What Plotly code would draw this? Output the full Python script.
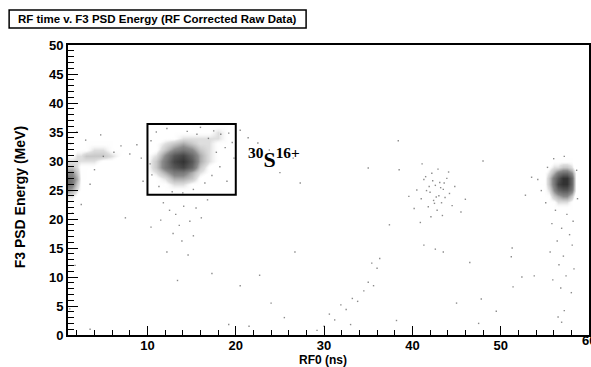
import plotly.graph_objects as go

# ---------------- data ----------------
# Cluster A (30S16+) density grid
a_x = [10, 11, 12, 13, 14, 15, 16, 17, 18, 19, 20]
a_y = [24, 25, 26, 27, 28, 29, 30, 31, 32, 33, 34, 35, 36]
a_z = [
    [0, 0, 0, 1, 1, 0, 0, 0, 0, 0, 0],
    [0, 0, 1, 1, 1, 1, 0, 0, 0, 0, 0],
    [0, 1, 1, 2, 2, 1, 1, 0, 0, 0, 0],
    [0, 1, 2, 4, 4, 3, 1, 0, 0, 0, 0],
    [1, 2, 4, 6, 6, 4, 2, 1, 0, 0, 0],
    [1, 3, 6, 8, 9, 7, 3, 1, 0, 0, 0],
    [1, 3, 6, 9, 10, 8, 4, 2, 1, 0, 0],
    [1, 2, 5, 8, 9, 7, 4, 2, 1, 0, 0],
    [0, 1, 3, 5, 6, 5, 3, 2, 1, 0, 0],
    [0, 1, 2, 3, 4, 3, 2, 2, 1, 1, 0],
    [0, 0, 1, 1, 2, 2, 2, 2, 2, 1, 0],
    [0, 0, 0, 1, 1, 1, 1, 1, 2, 1, 0],
    [0, 0, 0, 0, 0, 1, 1, 1, 1, 1, 0],
]

# Cluster B (x ~ 57 ns) density grid
b_x = [54, 54.5, 55, 55.5, 56, 56.5, 57, 57.5, 58, 58.5, 59]
b_y = [22, 23, 24, 25, 26, 27, 28, 29, 30]
b_z = [
    [0, 0, 0, 0, 1, 1, 1, 1, 1, 0, 0],
    [0, 0, 0, 1, 1, 2, 2, 2, 1, 0, 0],
    [0, 0, 1, 1, 3, 4, 5, 5, 3, 0, 0],
    [0, 0, 1, 2, 5, 7, 8, 8, 6, 1, 0],
    [0, 1, 1, 3, 6, 9, 10, 10, 7, 1, 0],
    [0, 0, 1, 3, 6, 8, 10, 10, 7, 1, 0],
    [0, 0, 1, 2, 4, 6, 7, 7, 5, 1, 0],
    [0, 0, 0, 1, 2, 2, 3, 3, 2, 0, 0],
    [0, 0, 0, 0, 1, 1, 1, 1, 1, 0, 0],
]

# Left-edge cluster and band density grid
c_x = [1, 1.5, 2, 2.5, 3, 4, 5, 6, 7, 8, 9]
c_y = [23, 24, 25, 26, 27, 28, 29, 30, 31, 32, 33]
c_z = [
    [1, 1, 0, 0, 0, 0, 0, 0, 0, 0, 0],
    [2, 2, 1, 0, 0, 0, 0, 0, 0, 0, 0],
    [5, 4, 2, 1, 0, 0, 0, 0, 0, 0, 0],
    [7, 6, 3, 1, 0, 0, 0, 0, 0, 0, 0],
    [7, 6, 4, 1, 1, 0, 0, 0, 0, 0, 0],
    [5, 5, 3, 1, 1, 0, 0, 0, 0, 0, 0],
    [3, 3, 2, 1, 1, 1, 0, 0, 0, 0, 0],
    [2, 2, 2, 2, 2, 2, 1, 1, 0, 0, 0],
    [1, 1, 2, 2, 3, 3, 3, 2, 1, 0, 0],
    [0, 0, 1, 1, 1, 2, 2, 1, 1, 1, 0],
    [0, 0, 0, 0, 1, 1, 1, 1, 0, 0, 0],
]

# Individual sparse events
pts_x = [
    10.4, 11.0, 12.2, 16.0, 17.5, 18.3, 19.2, 19.6, 18.8, 17.8, 16.9, 15.6, 14.5, 19.8, 18.2, 17.3, 16.5, 15.2,
    11.3, 10.5, 10.3, 12.8, 14.0, 19.0, 20.5, 21.4, 22.5, 23.8,
    11.8, 12.5, 13.2, 14.1, 14.8, 13.6, 12.9, 15.2, 13.9, 11.5, 10.4, 16.1, 12.2, 14.6, 13.4, 16.8, 15.5,
    25.0, 26.5, 27.3,
    30.0, 30.6, 31.2, 31.9, 32.5, 33.2, 33.8, 34.5, 35.0, 35.6, 36.0, 36.3, 35.4, 37.4, 41.3, 42.6, 43.5, 29.2, 33.0, 38.2,
    40.5, 41.0, 41.3, 41.8, 42.0, 42.2, 42.4, 42.6, 42.8, 43.0, 43.1, 43.3, 43.5, 43.7, 43.9, 44.2, 44.5, 41.6, 42.9,
    42.1, 40.2, 39.6, 44.8, 45.5, 38.5, 41.1, 43.4, 42.3, 42.7, 41.9, 43.6, 40.9, 44.1, 46.0, 42.5, 41.5, 43.2,
    56.2, 57.5, 58.2, 55.8, 56.9, 57.8, 56.4, 58.1, 55.6, 57.1, 56.6, 58.3, 57.4, 55.9, 56.8, 58.0, 57.2, 56.5, 56.9,
    55.1, 54.6, 54.2, 58.7, 58.6, 55.3, 56.0, 57.2, 53.5, 52.8, 51.3, 51.4, 52.4, 51.2,
    2.5, 1.5, 3.5, 4.0, 5.0, 6.2, 7.0, 8.0, 8.8, 9.3, 3.0, 1.3, 2.0, 4.7, 1.2, 7.5, 9.5, 1.8,
    20.5, 22.7, 17.3, 25.5, 24.0, 21.5, 47.5, 45.0, 46.5, 47.8, 53.8, 49.5, 3.5, 19.2, 26.7, 48.0, 35.0, 38.4,
]
pts_y = [
    33.5, 35.0, 35.6, 35.8, 35.2, 34.6, 34.8, 33.2, 32.3, 31.5, 33.9, 34.6, 35.1, 30.5, 29.0, 27.5, 26.2, 25.1,
    25.6, 27.6, 29.5, 24.7, 24.5, 26.5, 35.3, 34.0, 33.1, 31.9,
    22.8, 21.5, 20.8, 22.2, 19.6, 18.9, 17.5, 17.1, 16.2, 19.8, 18.6, 20.2, 14.3, 13.8, 9.4, 23.3, 21.9,
    28.0, 30.5, 26.2,
    1.5, 3.6, 2.6, 5.2, 4.4, 6.3, 5.8, 7.6, 9.1, 8.5, 11.5, 13.2, 12.4, 19.0, 15.5, 14.8, 14.3, 0.8, 1.8, 2.5,
    25.0, 23.5, 26.8, 22.1, 24.6, 27.9, 23.2, 25.8, 21.5, 24.0, 26.3, 22.8, 25.1, 23.7, 27.0, 24.4, 22.3, 24.9, 28.6,
    20.4, 21.8, 23.9, 25.6, 21.2, 28.5, 29.5, 20.6, 26.6, 23.8, 25.6, 26.2, 19.4, 28.1, 23.4, 22.7, 27.3, 25.4,
    21.5, 20.8, 19.6, 19.2, 18.4, 17.3, 16.2, 15.5, 14.3, 13.6, 12.1, 11.4, 10.2, 9.5, 8.1, 7.3, 4.2, 3.1, 2.2,
    22.8, 24.9, 26.8, 23.5, 28.4, 28.9, 30.4, 30.8, 27.2, 24.1, 15.0, 8.3, 10.0, 13.5,
    22.5, 21.0, 26.0, 28.5, 30.8, 31.5, 32.6, 31.2, 32.8, 30.5, 33.6, 33.0, 35.0, 34.5, 4.5, 20.2, 26.5, 12.0,
    8.5, 10.3, 10.6, 3.0, 5.5, 1.5, 2.0, 5.5, 12.5, 6.2, 10.2, 4.1, 1.0, 1.8, 14.3, 30.0, 28.8, 33.5,
]

x_ticks = [10, 20, 30, 40, 50, 60]
y_ticks = [0, 5, 10, 15, 20, 25, 30, 35, 40, 45, 50]

# ---------------- figure ----------------
FONT = "Liberation Sans, Arial, Helvetica, sans-serif"
cscale = [
    [0.0, "rgba(255,255,255,0)"],
    [0.08, "rgba(255,255,255,0)"],
    [0.2, "rgba(200,200,200,0.6)"],
    [0.5, "rgba(125,125,125,0.9)"],
    [1.0, "rgba(50,50,50,1)"],
]

fig = go.Figure()
for gx, gy, gz in [(a_x, a_y, a_z), (b_x, b_y, b_z), (c_x, c_y, c_z)]:
    fig.add_trace(go.Heatmap(
        x=gx, y=gy, z=gz, zmin=0, zmax=10, zsmooth="best",
        colorscale=cscale, showscale=False, hoverinfo="skip",
    ))

fig.add_trace(go.Scatter(
    x=pts_x, y=pts_y, mode="markers",
    marker=dict(size=1.4, color="rgba(90,90,90,0.7)", symbol="square", line=dict(width=0)),
    hoverinfo="skip", showlegend=False,
))

# box around the 30S16+ group
fig.add_shape(type="rect", x0=10, x1=20, y0=24.2, y1=36.4, xref="x", yref="y",
              line=dict(color="black", width=2), fillcolor="rgba(0,0,0,0)")

# title box
fig.add_shape(type="rect", xref="paper", yref="paper", x0=-0.113, x1=0.457, y0=1.059, y1=1.121,
              line=dict(color="black", width=1.5), fillcolor="white")
fig.add_annotation(xref="paper", yref="paper", x=0.172, y=1.090, xanchor="center", yanchor="middle",
                   text="RF time v. F3 PSD Energy (RF Corrected Raw Data)", showarrow=False,
                   font=dict(family=FONT, size=11.5, color="black", weight="bold"))

# isotope label
fig.add_annotation(x=21.2, y=30.6, xref="x", yref="y", xanchor="left", yanchor="middle", showarrow=False,
                   text="<sup>30</sup>S<sup>16+</sup>",
                   font=dict(family="Liberation Serif, Times New Roman, serif", size=22, color="black", weight="bold"))

# axis titles
fig.add_annotation(xref="paper", yref="paper", x=0.49, y=-0.086, xanchor="center", yanchor="middle",
                   text="RF0 (ns)", showarrow=False,
                   font=dict(family=FONT, size=12, color="black", weight="bold"))
fig.add_annotation(xref="paper", yref="paper", x=-0.092, y=0.475, xanchor="center", yanchor="middle",
                   text="F3 PSD Energy (MeV)", showarrow=False, textangle=-90,
                   font=dict(family=FONT, size=14, color="black", weight="bold"))

# last x tick label sits on the figure's right edge (partly cut off)
fig.add_annotation(xref="x", yref="paper", x=x_ticks[-1], y=-0.02, xanchor="center", yanchor="middle",
                   text=str(x_ticks[-1]), showarrow=False,
                   font=dict(family=FONT, size=13, color="black", weight="bold"))

axis_common = dict(
    showline=True, linecolor="black", linewidth=2, mirror=True, automargin=False,
    ticks="inside", tickcolor="black", tickwidth=1, showgrid=False, zeroline=False,
    tickfont=dict(family=FONT, size=13, color="black", weight="bold"),
)
fig.update_xaxes(
    range=[1, 60], tickvals=x_ticks, ticklen=9, ticklabelstandoff=-3,
    minor=dict(ticks="inside", dtick=2, tick0=0, ticklen=5, tickcolor="black", showgrid=False),
    **axis_common,
)
fig.update_yaxes(
    range=[0, 50], tickvals=y_ticks, ticklen=10,
    minor=dict(ticks="inside", dtick=1, tick0=0, ticklen=6, tickcolor="black", showgrid=False),
    **axis_common,
)

fig.update_layout(
    width=591, height=367,
    margin=dict(l=68, r=2, t=45, b=32),
    paper_bgcolor="white", plot_bgcolor="white",
    showlegend=False,
)

fig.write_html(
    "out.html",
    config={"displayModeBar": False},
    post_script="document.body.style.margin='0';document.body.style.padding='0';document.body.style.overflow='hidden';",
)
